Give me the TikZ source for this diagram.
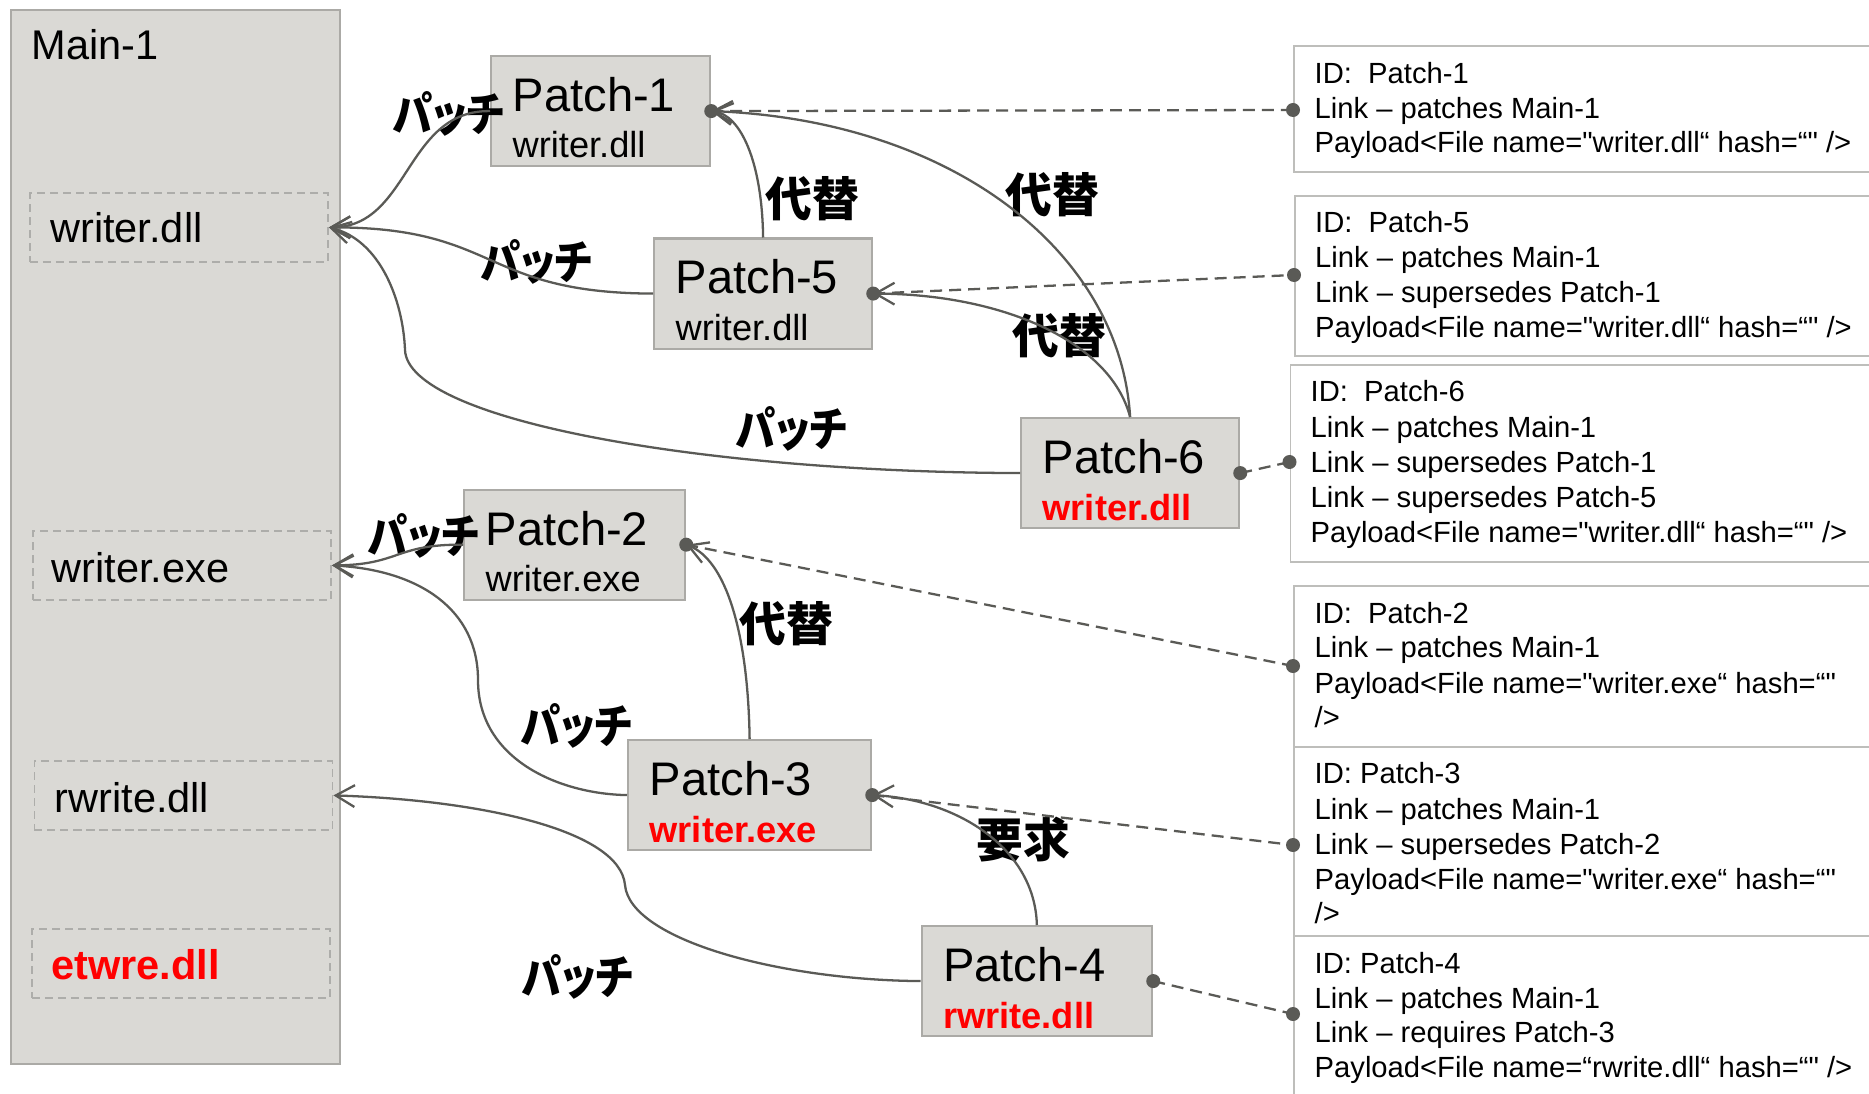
\documentclass[tikz,border=0pt]{standalone}
\usepackage{fontspec}
\setmainfont{Liberation Sans}[Ligatures=TeXOff]
\newfontfamily\jpfont[RawFeature=+palt]{Noto Sans CJK JP}
\usetikzlibrary{arrows.meta,calc}

\definecolor{boxfill}{HTML}{DAD9D5}
\definecolor{boxedge}{HTML}{ABAAA6}
\definecolor{fileedge}{HTML}{ADADAA}
\definecolor{infoedge}{HTML}{BEBEBB}
\definecolor{wire}{HTML}{5A5A56}
\definecolor{alert}{HTML}{FF0000}

\newcommand\hot{\color{alert}\bfseries}
% katakana label, set a little narrower
\newcommand\kana[1]{\scalebox{0.86}[1]{#1}}

% a patch: grey box with its name and the file it carries
\newcommand\patchnode[6]{%
  \node[patchbox, minimum width=#4] (#1) at (#2,#3) {};
  \node[ptitle] (#1-title) at ($(#1.north west)+(22,56.5)$) {#5};
  \node[psub] (#1-file) at ($(#1.north west)+(22,103)$) {#6};
}

\begin{document}
\begin{tikzpicture}[x=0.01cm, y=-0.01cm,
  >={Straight Barb[length=5.4pt,width=6.2pt]},
  mainbox/.style={draw=boxedge, fill=boxfill, line width=0.6pt, anchor=north west, inner sep=0},
  filebox/.style={draw=fileedge, dash pattern=on 2.3pt off 1.4pt, line width=0.5pt,
    minimum width=2.98cm, minimum height=0.69cm, anchor=north west, inner sep=0},
  filename/.style={font=\fontsize{11.8}{14}\selectfont, inner sep=0, anchor=base west},
  patchbox/.style={draw=boxedge, fill=boxfill, line width=0.6pt, minimum height=1.10cm,
    anchor=north west, inner sep=0},
  ptitle/.style={font=\fontsize{13.4}{16}\selectfont, inner sep=0, anchor=base west},
  psub/.style={font=\fontsize{10.3}{12}\selectfont, inner sep=0, anchor=base west},
  infobox/.style={draw=infoedge, line width=0.55pt, minimum width=6cm, anchor=north west, inner sep=0},
  infotext/.style={font=\fontsize{8.3}{10}\selectfont, inner sep=0, anchor=base west},
  jplabel/.style={font=\jpfont\bfseries\fontsize{13.3}{16}\selectfont, inner sep=0},
  curve/.style={draw=wire, line width=0.65pt, ->},
  link/.style={draw=wire, line width=0.65pt, dash pattern=on 3.4pt off 2pt},
  dot/.style={fill=wire}
]
\useasboundingbox (0,0) rectangle (1869,1094);
\fill[white] (0,0) rectangle (1869,1094);

% the main product and the files it holds
\node[mainbox, minimum width=3.29cm, minimum height=10.53cm] (main) at (10,9.3) {};
\node[filename] (mainname) at (31,60) {Main-1};
\node[filebox] (wd) at (29,192) {};
\node[filebox] (we) at (32,530) {};
\node[filebox] (rd) at (33.5,760) {};
\node[filebox] (ed) at (31,928) {};
\node[filename] (wd-name) at (49.6,242) {writer.dll};
\node[filename] (we-name) at (51,582) {writer.exe};
\node[filename] (rd-name) at (54,812) {rwrite.dll};
\node[filename] (ed-name) at (50.5,979) {\hot etwre.dll};

% patches
\patchnode{p1}{490}{55}{2.19cm}{Patch-1}{writer.dll}
\patchnode{p5}{653}{237.5}{2.18cm}{Patch-5}{writer.dll}
\patchnode{p6}{1020}{417}{2.18cm}{Patch-6}{\hot writer.dll}
\patchnode{p2}{463}{488.6}{2.21cm}{Patch-2}{writer.exe}
\patchnode{p3}{627}{739}{2.43cm}{Patch-3}{\hot writer.exe}
\patchnode{p4}{920.5}{925}{2.305cm}{Patch-4}{\hot rwrite.dll}

% metadata panels
\node[infobox, minimum height=1.255cm] (info1) at (1293,45.5) {};
\node[infobox, minimum height=1.604cm] (info2) at (1294,194.6) {};
\node[infobox, minimum height=1.97cm] (info3) at (1289.5,364) {};
\node[infobox, minimum height=1.605cm] (info4) at (1293,585) {};
\node[infobox, minimum height=1.895cm] (info5) at (1293,745.5) {};
\node[infobox, minimum height=2.0cm] (info6) at (1293,935) {};

\node[infotext] (i1a) at (1314,84) {ID:\ \ Patch-1};
\node[infotext] (i1b) at (1314,119) {Link – patches Main-1};
\node[infotext] (i1c) at (1314,153) {Payload<File name="writer.dll“ hash=“" />};

\node[infotext] (i2a) at (1314.5,233) {ID:\ \ Patch-5};
\node[infotext] (i2b) at (1314.5,268) {Link – patches Main-1};
\node[infotext] (i2c) at (1314.5,303) {Link – supersedes Patch-1};
\node[infotext] (i2d) at (1314.5,337.5) {Payload<File name="writer.dll“ hash=“" />};

\node[infotext] (i3a) at (1310,401) {ID:\ \ Patch-6};
\node[infotext] (i3b) at (1310,437) {Link – patches Main-1};
\node[infotext] (i3c) at (1310,472.5) {Link – supersedes Patch-1};
\node[infotext] (i3d) at (1310,507) {Link – supersedes Patch-5};
\node[infotext] (i3e) at (1310,542) {Payload<File name="writer.dll“ hash=“" />};

\node[infotext] (i4a) at (1314,623.5) {ID:\ \ Patch-2};
\node[infotext] (i4b) at (1314,657.6) {Link – patches Main-1};
\node[infotext] (i4c) at (1314,693) {Payload<File name="writer.exe“ hash=“"};
\node[infotext] (i4d) at (1314,727) {/>};

\node[infotext] (i5a) at (1314,783) {ID: Patch-3};
\node[infotext] (i5b) at (1314,819) {Link – patches Main-1};
\node[infotext] (i5c) at (1314,854) {Link – supersedes Patch-2};
\node[infotext] (i5d) at (1314,889) {Payload<File name="writer.exe“ hash=“"};
\node[infotext] (i5e) at (1314,923.6) {/>};

\node[infotext] (i6a) at (1314,973) {ID: Patch-4};
\node[infotext] (i6b) at (1314,1008) {Link – patches Main-1};
\node[infotext] (i6c) at (1314,1042) {Link – requires Patch-3};
\node[infotext] (i6d) at (1314,1077) {Payload<File name=“rwrite.dll“ hash=“" />};

% relation labels
\node[jplabel] (lp1) at (449,114) {\kana{パッチ}};
\node[jplabel] (lp5) at (537,262) {\kana{パッチ}};
\node[jplabel] (lp6) at (792,429) {\kana{パッチ}};
\node[jplabel] (lp2) at (423.5,536) {\kana{パッチ}};
\node[jplabel] (lp3) at (577,726) {\kana{パッチ}};
\node[jplabel] (lp4) at (578,977) {\kana{パッチ}};
\node[jplabel] (ls51) at (812,199) {代替};
\node[jplabel] (ls61) at (1052,195) {代替};
\node[jplabel] (ls65) at (1059,336) {代替};
\node[jplabel] (ls32) at (786,624) {代替};
\node[jplabel] (lr43) at (1023,840) {要求};

% patch -> file in Main-1
\draw[curve] (p1.west) .. controls (405,110) and (410,227) .. (wd.east);
\draw[curve] (p5.west) .. controls (480,293) and (500,227) .. (wd.east);
\draw[curve] (p6.west) .. controls (700,472) and (408,420) .. (405,350)
                       .. controls (403,300) and (380,240) .. (wd.east);
\draw[curve] (p2.west) .. controls (395,544) and (400,565) .. (we.east);
\draw[curve] (p3.west) .. controls (560,794) and (478,760) .. (478,680)
                       .. controls (478,610) and (420,570) .. (we.east);
\draw[curve] (p4.west) .. controls (780,980) and (630,940) .. (625,885)
                       .. controls (620,830) and (480,800) .. (rd.east);

% supersedes / requires
\draw[curve] (p5.north) .. controls (762,160) and (740,115) .. (p1.east);
\draw[curve] (p6.north) .. controls (1120,250) and (950,120) .. (p1.east);
\draw[curve] (p6.north) .. controls (1110,340) and (1000,294) .. (p5.east);
\draw[curve] (p3.north) .. controls (748,630) and (725,560) .. (p2.east);
\draw[curve] (p4.north) .. controls (1035,850) and (960,800) .. (p3.east);

% patch -> metadata
\coordinate (d1) at (info1.west |- 0,110);
\coordinate (d2) at (info2.west |- 0,275);
\coordinate (d3) at (info3.west |- 0,462);
\coordinate (d4) at (info4.west |- 0,666);
\coordinate (d5) at (info5.west |- 0,845);
\coordinate (d6) at (info6.west |- 0,1014);
\draw[link] (p1.east) -- (d1);
\draw[link] (p5.east) -- (d2);
\draw[link] (p6.east) -- (d3);
\draw[link] (p2.east) -- (d4);
\draw[link] (p3.east) -- (d5);
\draw[link] (p4.east) -- (d6);

\foreach \n in {p1,p5,p6,p2,p3,p4} \fill[dot] (\n.east) circle[radius=0.07cm];
\foreach \n in {d1,d2,d3,d4,d5,d6} \fill[dot] (\n) circle[radius=0.07cm];
\end{tikzpicture}
\end{document}
